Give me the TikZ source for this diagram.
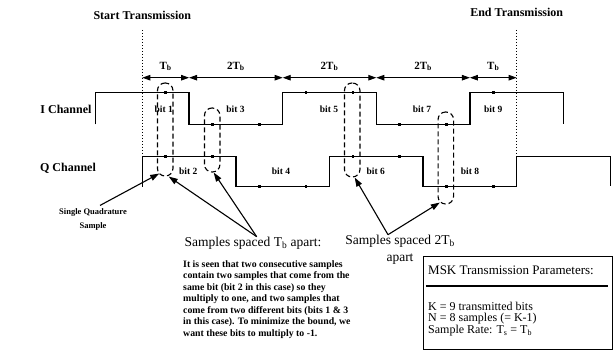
\documentclass[tikz,border=0pt]{standalone}
\usepackage{fontspec}
\setmainfont{Liberation Serif}
\usetikzlibrary{arrows.meta,calc}
\begin{document}
\begin{tikzpicture}[x=1pt,y=-1pt,
  wave/.style={line width=1.4pt},
  startline/.style={dotted, line width=1pt},
  dim/.style={line width=0.9pt, {Triangle[length=8pt,width=5.5pt]}-{Triangle[length=8pt,width=5.5pt]}},
  dimlbl/.style={font=\bfseries\fontsize{11}{12}\selectfont, inner sep=0},
  bitlbl/.style={font=\bfseries\fontsize{9.5}{10}\selectfont, inner sep=0},
  ttl/.style={font=\bfseries\fontsize{12}{13}\selectfont, inner sep=0},
  chan/.style={font=\bfseries\fontsize{12}{13}\selectfont, inner sep=0},
  ell/.style={draw, dash pattern=on 5pt off 3pt, line width=1.1pt, rounded corners=7.5pt, minimum width=15.5pt, inner sep=0},
  smark/.style={fill, minimum size=2.6pt, inner sep=0},
  ptr/.style={line width=1.1pt, -{Triangle[length=9pt,width=6pt]}},
  head/.style={font=\fontsize{13.5}{17}\selectfont, inner sep=0, align=center},
  boxtxt/.style={font=\fontsize{12}{12.5}\selectfont, inner sep=0, anchor=west}
]
\useasboundingbox (0,0) rectangle (616,350);

% start / end markers
\node[ttl] (starttxt) at (142.3,15.5) {Start Transmission};
\node[ttl] (endtxt) at (516.7,12.3) {End Transmission};
\coordinate (st) at (142.3,30);
\coordinate (sb) at (142.3,186.3);
\coordinate (et) at (516.7,30);
\coordinate (eb) at (516.7,186.3);
\draw[startline] (st) -- (sb);
\draw[startline] (et) -- (eb);

% dimension line
\coordinate (d0) at (142.3,77.7);
\coordinate (d1) at (189.1,77.7);
\coordinate (d3) at (282.7,77.7);
\coordinate (d5) at (376.3,77.7);
\coordinate (d7) at (469.9,77.7);
\coordinate (d8) at (516.7,77.7);
\draw[dim] (d0) -- (d1);
\draw[dim] (d1) -- (d3);
\draw[dim] (d3) -- (d5);
\draw[dim] (d5) -- (d7);
\draw[dim] (d7) -- (d8);
\node[dimlbl] (l1) at (165.7,66.5) {T\textsubscript{b}};
\node[dimlbl] (l2) at (235.9,66.5) {2T\textsubscript{b}};
\node[dimlbl] (l3) at (329.5,66.5) {2T\textsubscript{b}};
\node[dimlbl] (l4) at (423.1,66.5) {2T\textsubscript{b}};
\node[dimlbl] (l5) at (493.3,66.5) {T\textsubscript{b}};

% channel labels
\node[chan] (ich) at (66,109) {I Channel};
\node[chan] (qch) at (68,168) {Q Channel};

% waveforms
\draw[wave] (95.5,124.5) -- (95.5,92.8) -- (189.1,92.8) -- (189.1,124.5) -- (282.7,124.5) -- (282.7,92.8) -- (376.3,92.8) -- (376.3,124.5) -- (469.9,124.5) -- (469.9,92.8) -- (563.5,92.8) -- (563.5,124.5);
\draw[wave] (142.3,186.3) -- (142.3,156.3) -- (235.9,156.3) -- (235.9,186.3) -- (329.5,186.3) -- (329.5,156.3) -- (423.1,156.3) -- (423.1,186.3) -- (516.7,186.3) -- (516.7,156.3) -- (610.3,156.3) -- (610.3,186.3);

% sample marks
\foreach \k/\iy/\qy in {0/92.8/156.3, 1/124.5/156.3, 2/124.5/186.3, 3/92.8/186.3, 4/92.8/156.3, 5/124.5/156.3, 6/124.5/186.3, 7/92.8/186.3}{
  \node[smark] (mi\k) at ({142.3+(\k+0.5)*46.8},\iy) {};
  \node[smark] (mq\k) at ({142.3+(\k+0.5)*46.8},\qy) {};
}

% bit labels
\node[bitlbl] (b1) at (163.8,109) {bit 1};
\node[bitlbl] (b3) at (235.5,109) {bit 3};
\node[bitlbl] (b5) at (329,109) {bit 5};
\node[bitlbl] (b7) at (422,109) {bit 7};
\node[bitlbl] (b9) at (493.3,109) {bit 9};
\node[bitlbl] (b2) at (188.3,171.7) {bit 2};
\node[bitlbl] (b4) at (281,171.7) {bit 4};
\node[bitlbl] (b6) at (375.8,171.7) {bit 6};
\node[bitlbl] (b8) at (470,171.7) {bit 8};

% dashed sample groupings
\node[ell, minimum height=93pt] (e1) at (165.2,129.5) {};
\node[ell, minimum height=64pt] (e2) at (212.2,140) {};
\node[ell, minimum height=94pt] (e3) at (352.2,130) {};
\node[ell, minimum height=92pt] (e4) at (445.8,158) {};

% annotations
\node[font=\bfseries\fontsize{8.5}{14}\selectfont, inner sep=0, align=center] (sq) at (93,219.5) {Single Quadrature\\Sample};
\draw[ptr] ($(sq.north)+(7,-3)$) -- ($(e1.south)+(-6,-3)$);

\node[head] (stb) at (253,243) {Samples spaced T\textsubscript{b} apart:};
\coordinate (apx1) at ($(stb.north)+(3.7,0)$);
\draw[ptr] (apx1) -- ($(e1.south)+(3.5,0)$);
\draw[ptr] (apx1) -- ($(e2.south)+(1.5,0)$);

\node[head] (s2tb) at (400,249.5) {Samples spaced 2T\textsubscript{b}\\apart};
\coordinate (apx2) at ($(s2tb.north)+(-12,0)$);
\draw[ptr] (apx2) -- ($(e3.south)+(2.5,0)$);
\draw[ptr] (apx2) -- ($(e4.south)+(-6,-2)$);

\node[font=\bfseries\fontsize{9.8}{11.5}\selectfont, inner sep=0, anchor=north west, align=left] (para) at (183,260) {It is seen that two consecutive samples\\contain two samples that come from the\\same bit (bit 2 in this case) so they\\multiply to one, and two samples that\\come from two different bits (bits 1 \& 3\\in this case). To minimize the bound, we\\want these bits to multiply to -1.};

% parameter box
\node[draw, line width=1.1pt, minimum width=189pt, minimum height=93pt, anchor=north west, inner sep=0] (box) at (423.3,256) {};
\node[boxtxt, font=\fontsize{13}{14}\selectfont] (bt) at (428,270) {MSK Transmission Parameters:};
\draw[line width=1.3pt] ($(box.north west)+(2.5,30)$) -- ($(box.north east)+(-5,30)$);
\node[boxtxt] (bk) at (428,306) {K = 9 transmitted bits};
\node[boxtxt] (bn) at (428,318.5) {N = 8 samples (= K-1)};
\node[boxtxt] (br) at (428,331) {Sample Rate: T\textsubscript{s} = T\textsubscript{b}};
\end{tikzpicture}
\end{document}
